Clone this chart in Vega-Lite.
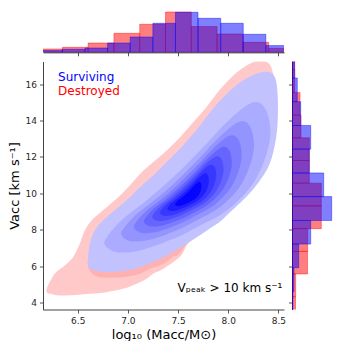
{
  "$schema": "https://vega.github.io/schema/vega-lite/v6.json",
  "padding": {"left": 8, "top": 10, "right": 0, "bottom": 0},
  "config": {
    "view": {"stroke": null},
    "font": "DejaVu Sans",
    "axis": {"grid": false, "labelFont": "DejaVu Sans", "titleFont": "DejaVu Sans", "domainColor": "#444444", "tickColor": "#444444", "labelColor": "#262626", "titleColor": "#000000", "titleFontWeight": "normal", "tickSize": 3.5, "labelFontSize": 9, "titleFontSize": 13, "domainWidth": 1, "tickWidth": 0.9, "labelFlush": false}
  },
  "datasets": {
    "top": [
      {"g": "Destroyed", "x0": 6.090, "x1": 6.347, "h": 3.3},
      {"g": "Destroyed", "x0": 6.347, "x1": 6.604, "h": 5},
      {"g": "Destroyed", "x0": 6.604, "x1": 6.861, "h": 9.3},
      {"g": "Destroyed", "x0": 6.861, "x1": 7.118, "h": 19},
      {"g": "Destroyed", "x0": 7.118, "x1": 7.375, "h": 28},
      {"g": "Destroyed", "x0": 7.375, "x1": 7.632, "h": 40.3},
      {"g": "Destroyed", "x0": 7.632, "x1": 7.889, "h": 25.7},
      {"g": "Destroyed", "x0": 7.889, "x1": 8.146, "h": 18.3},
      {"g": "Destroyed", "x0": 8.146, "x1": 8.403, "h": 10},
      {"g": "Destroyed", "x0": 8.403, "x1": 8.660, "h": 4},
      {"g": "Surviving", "x0": 6.122, "x1": 6.347, "h": 1.7},
      {"g": "Surviving", "x0": 6.347, "x1": 6.573, "h": 3},
      {"g": "Surviving", "x0": 6.573, "x1": 6.798, "h": 4.3},
      {"g": "Surviving", "x0": 6.798, "x1": 7.023, "h": 9.3},
      {"g": "Surviving", "x0": 7.023, "x1": 7.249, "h": 15.3},
      {"g": "Surviving", "x0": 7.249, "x1": 7.474, "h": 29},
      {"g": "Surviving", "x0": 7.474, "x1": 7.699, "h": 40},
      {"g": "Surviving", "x0": 7.699, "x1": 7.925, "h": 34},
      {"g": "Surviving", "x0": 7.925, "x1": 8.150, "h": 29},
      {"g": "Surviving", "x0": 8.150, "x1": 8.375, "h": 18},
      {"g": "Surviving", "x0": 8.375, "x1": 8.601, "h": 6.7}
    ],
    "right": [
      {"g": "Destroyed", "y0": 3.07, "y1": 4.32, "w": 3.5},
      {"g": "Destroyed", "y0": 4.32, "y1": 5.57, "w": 3.7},
      {"g": "Destroyed", "y0": 5.57, "y1": 6.81, "w": 15.5},
      {"g": "Destroyed", "y0": 6.81, "y1": 8.06, "w": 15.7},
      {"g": "Destroyed", "y0": 8.06, "y1": 9.31, "w": 29.3},
      {"g": "Destroyed", "y0": 9.31, "y1": 10.56, "w": 29.3},
      {"g": "Destroyed", "y0": 10.56, "y1": 11.81, "w": 17.3},
      {"g": "Destroyed", "y0": 11.81, "y1": 13.05, "w": 17.3},
      {"g": "Destroyed", "y0": 13.05, "y1": 14.30, "w": 9},
      {"g": "Destroyed", "y0": 14.30, "y1": 15.55, "w": 8},
      {"g": "Destroyed", "y0": 15.55, "y1": 16.80, "w": 2.7},
      {"g": "Destroyed", "y0": 16.80, "y1": 18.05, "w": 2.5},
      {"g": "Surviving", "y0": 3.30, "y1": 4.60, "w": 1},
      {"g": "Surviving", "y0": 4.60, "y1": 5.91, "w": 2},
      {"g": "Surviving", "y0": 5.91, "y1": 7.21, "w": 6.7},
      {"g": "Surviving", "y0": 7.21, "y1": 8.51, "w": 18.7},
      {"g": "Surviving", "y0": 8.51, "y1": 9.82, "w": 39.7},
      {"g": "Surviving", "y0": 9.82, "y1": 11.12, "w": 31.7},
      {"g": "Surviving", "y0": 11.12, "y1": 12.43, "w": 17.3},
      {"g": "Surviving", "y0": 12.43, "y1": 13.73, "w": 18.7},
      {"g": "Surviving", "y0": 13.73, "y1": 15.04, "w": 8.7},
      {"g": "Surviving", "y0": 15.04, "y1": 16.34, "w": 5.3},
      {"g": "Surviving", "y0": 16.34, "y1": 17.64, "w": 2.7}
    ],
    "contours": [
      {"level": "L01", "i": 0, "x": 6.187, "y": 4.66},
      {"level": "L01", "i": 1, "x": 6.27, "y": 5.58},
      {"level": "L01", "i": 2, "x": 6.37, "y": 6.04},
      {"level": "L01", "i": 3, "x": 6.453, "y": 6.49},
      {"level": "L01", "i": 4, "x": 6.52, "y": 7.23},
      {"level": "L01", "i": 5, "x": 6.57, "y": 7.96},
      {"level": "L01", "i": 6, "x": 6.653, "y": 8.6},
      {"level": "L01", "i": 7, "x": 6.77, "y": 9.15},
      {"level": "L01", "i": 8, "x": 6.887, "y": 9.7},
      {"level": "L01", "i": 9, "x": 7.003, "y": 10.34},
      {"level": "L01", "i": 10, "x": 7.12, "y": 11.07},
      {"level": "L01", "i": 11, "x": 7.253, "y": 11.72},
      {"level": "L01", "i": 12, "x": 7.387, "y": 12.36},
      {"level": "L01", "i": 13, "x": 7.52, "y": 13.09},
      {"level": "L01", "i": 14, "x": 7.653, "y": 13.92},
      {"level": "L01", "i": 15, "x": 7.77, "y": 14.65},
      {"level": "L01", "i": 16, "x": 7.87, "y": 15.38},
      {"level": "L01", "i": 17, "x": 7.97, "y": 16.02},
      {"level": "L01", "i": 18, "x": 8.07, "y": 16.57},
      {"level": "L01", "i": 19, "x": 8.17, "y": 16.99},
      {"level": "L01", "i": 20, "x": 8.27, "y": 17.25},
      {"level": "L01", "i": 21, "x": 8.37, "y": 17.25},
      {"level": "L01", "i": 22, "x": 8.42, "y": 17.03},
      {"level": "L01", "i": 23, "x": 8.447, "y": 16.57},
      {"level": "L01", "i": 24, "x": 8.47, "y": 15.56},
      {"level": "L01", "i": 25, "x": 8.46, "y": 13.0},
      {"level": "L01", "i": 26, "x": 8.40, "y": 11.68},
      {"level": "L01", "i": 27, "x": 8.25, "y": 10.3},
      {"level": "L01", "i": 28, "x": 7.98, "y": 8.8},
      {"level": "L01", "i": 29, "x": 7.72, "y": 7.75},
      {"level": "L01", "i": 30, "x": 7.60, "y": 7.25},
      {"level": "L01", "i": 31, "x": 7.52, "y": 6.53},
      {"level": "L01", "i": 32, "x": 7.353, "y": 5.85},
      {"level": "L01", "i": 33, "x": 7.253, "y": 5.58},
      {"level": "L01", "i": 34, "x": 7.187, "y": 5.3},
      {"level": "L01", "i": 35, "x": 7.087, "y": 5.03},
      {"level": "L01", "i": 36, "x": 6.953, "y": 4.75},
      {"level": "L01", "i": 37, "x": 6.787, "y": 4.57},
      {"level": "L01", "i": 38, "x": 6.62, "y": 4.48},
      {"level": "L01", "i": 39, "x": 6.387, "y": 4.39},
      {"level": "L01", "i": 40, "x": 6.253, "y": 4.44},
      {"level": "L02", "i": 0, "x": 6.603, "y": 6.31},
      {"level": "L02", "i": 1, "x": 6.62, "y": 5.76},
      {"level": "L02", "i": 2, "x": 6.72, "y": 5.39},
      {"level": "L02", "i": 3, "x": 6.953, "y": 5.39},
      {"level": "L02", "i": 4, "x": 7.12, "y": 5.58},
      {"level": "L02", "i": 5, "x": 7.22, "y": 5.85},
      {"level": "L02", "i": 6, "x": 7.353, "y": 6.13},
      {"level": "L02", "i": 7, "x": 7.453, "y": 6.53},
      {"level": "L02", "i": 8, "x": 7.55, "y": 6.95},
      {"level": "L02", "i": 9, "x": 7.953, "y": 10.25},
      {"level": "L02", "i": 10, "x": 7.62, "y": 11.53},
      {"level": "L02", "i": 11, "x": 7.12, "y": 9.33},
      {"level": "L02", "i": 12, "x": 6.687, "y": 6.77},
      {"level": "L03", "i": 0, "x": 6.603, "y": 6.4},
      {"level": "L03", "i": 1, "x": 6.62, "y": 7.23},
      {"level": "L03", "i": 2, "x": 6.67, "y": 7.96},
      {"level": "L03", "i": 3, "x": 6.77, "y": 8.6},
      {"level": "L03", "i": 4, "x": 6.887, "y": 9.15},
      {"level": "L03", "i": 5, "x": 7.02, "y": 9.79},
      {"level": "L03", "i": 6, "x": 7.12, "y": 10.34},
      {"level": "L03", "i": 7, "x": 7.253, "y": 10.98},
      {"level": "L03", "i": 8, "x": 7.387, "y": 11.72},
      {"level": "L03", "i": 9, "x": 7.52, "y": 12.45},
      {"level": "L03", "i": 10, "x": 7.62, "y": 13.09},
      {"level": "L03", "i": 11, "x": 7.72, "y": 13.73},
      {"level": "L03", "i": 12, "x": 7.82, "y": 14.46},
      {"level": "L03", "i": 13, "x": 7.953, "y": 15.29},
      {"level": "L03", "i": 14, "x": 8.087, "y": 15.97},
      {"level": "L03", "i": 15, "x": 8.22, "y": 16.44},
      {"level": "L03", "i": 16, "x": 8.337, "y": 16.66},
      {"level": "L03", "i": 17, "x": 8.427, "y": 16.63},
      {"level": "L03", "i": 18, "x": 8.473, "y": 16.26},
      {"level": "L03", "i": 19, "x": 8.493, "y": 15.38},
      {"level": "L03", "i": 20, "x": 8.493, "y": 13.92},
      {"level": "L03", "i": 21, "x": 8.47, "y": 12.82},
      {"level": "L03", "i": 22, "x": 8.42, "y": 11.72},
      {"level": "L03", "i": 23, "x": 8.347, "y": 10.95},
      {"level": "L03", "i": 24, "x": 8.247, "y": 10.21},
      {"level": "L03", "i": 25, "x": 8.12, "y": 9.48},
      {"level": "L03", "i": 26, "x": 8.02, "y": 8.97},
      {"level": "L03", "i": 27, "x": 7.92, "y": 8.45},
      {"level": "L03", "i": 28, "x": 7.787, "y": 7.96},
      {"level": "L03", "i": 29, "x": 7.62, "y": 7.35},
      {"level": "L03", "i": 30, "x": 7.453, "y": 6.77},
      {"level": "L03", "i": 31, "x": 7.287, "y": 6.31},
      {"level": "L03", "i": 32, "x": 7.12, "y": 5.94},
      {"level": "L03", "i": 33, "x": 6.987, "y": 5.76},
      {"level": "L03", "i": 34, "x": 6.787, "y": 5.67},
      {"level": "L03", "i": 35, "x": 6.637, "y": 5.82},
      {"level": "L03", "i": 36, "x": 6.603, "y": 6.13},
      {"level": "L04", "i": 0, "x": 6.770, "y": 7.172},
      {"level": "L04", "i": 1, "x": 6.803, "y": 7.685},
      {"level": "L04", "i": 2, "x": 6.953, "y": 8.601},
      {"level": "L04", "i": 3, "x": 7.186, "y": 9.609},
      {"level": "L04", "i": 4, "x": 7.453, "y": 10.892},
      {"level": "L04", "i": 5, "x": 7.720, "y": 12.358},
      {"level": "L04", "i": 6, "x": 7.986, "y": 13.915},
      {"level": "L04", "i": 7, "x": 8.236, "y": 14.978},
      {"level": "L04", "i": 8, "x": 8.370, "y": 14.648},
      {"level": "L04", "i": 9, "x": 8.420, "y": 13.274},
      {"level": "L04", "i": 10, "x": 8.353, "y": 11.716},
      {"level": "L04", "i": 11, "x": 8.220, "y": 10.342},
      {"level": "L04", "i": 12, "x": 7.986, "y": 9.059},
      {"level": "L04", "i": 13, "x": 7.720, "y": 8.234},
      {"level": "L04", "i": 14, "x": 7.453, "y": 7.501},
      {"level": "L04", "i": 15, "x": 7.120, "y": 6.860},
      {"level": "L04", "i": 16, "x": 6.886, "y": 6.768},
      {"level": "L05", "i": 0, "x": 6.937, "y": 7.696},
      {"level": "L05", "i": 1, "x": 6.963, "y": 8.106},
      {"level": "L05", "i": 2, "x": 7.083, "y": 8.839},
      {"level": "L05", "i": 3, "x": 7.269, "y": 9.646},
      {"level": "L05", "i": 4, "x": 7.483, "y": 10.672},
      {"level": "L05", "i": 5, "x": 7.697, "y": 11.845},
      {"level": "L05", "i": 6, "x": 7.909, "y": 13.090},
      {"level": "L05", "i": 7, "x": 8.109, "y": 13.941},
      {"level": "L05", "i": 8, "x": 8.217, "y": 13.677},
      {"level": "L05", "i": 9, "x": 8.257, "y": 12.578},
      {"level": "L05", "i": 10, "x": 8.203, "y": 11.331},
      {"level": "L05", "i": 11, "x": 8.097, "y": 10.232},
      {"level": "L05", "i": 12, "x": 7.909, "y": 9.206},
      {"level": "L05", "i": 13, "x": 7.697, "y": 8.546},
      {"level": "L05", "i": 14, "x": 7.483, "y": 7.959},
      {"level": "L05", "i": 15, "x": 7.217, "y": 7.446},
      {"level": "L05", "i": 16, "x": 7.029, "y": 7.373},
      {"level": "L06", "i": 0, "x": 7.062, "y": 8.089},
      {"level": "L06", "i": 1, "x": 7.083, "y": 8.422},
      {"level": "L06", "i": 2, "x": 7.180, "y": 9.018},
      {"level": "L06", "i": 3, "x": 7.332, "y": 9.673},
      {"level": "L06", "i": 4, "x": 7.505, "y": 10.507},
      {"level": "L06", "i": 5, "x": 7.679, "y": 11.460},
      {"level": "L06", "i": 6, "x": 7.852, "y": 12.472},
      {"level": "L06", "i": 7, "x": 8.014, "y": 13.163},
      {"level": "L06", "i": 8, "x": 8.102, "y": 12.948},
      {"level": "L06", "i": 9, "x": 8.134, "y": 12.055},
      {"level": "L06", "i": 10, "x": 8.091, "y": 11.043},
      {"level": "L06", "i": 11, "x": 8.004, "y": 10.150},
      {"level": "L06", "i": 12, "x": 7.852, "y": 9.316},
      {"level": "L06", "i": 13, "x": 7.679, "y": 8.779},
      {"level": "L06", "i": 14, "x": 7.505, "y": 8.303},
      {"level": "L06", "i": 15, "x": 7.289, "y": 7.886},
      {"level": "L06", "i": 16, "x": 7.137, "y": 7.826},
      {"level": "L07", "i": 0, "x": 7.162, "y": 8.403},
      {"level": "L07", "i": 1, "x": 7.179, "y": 8.675},
      {"level": "L07", "i": 2, "x": 7.258, "y": 9.161},
      {"level": "L07", "i": 3, "x": 7.382, "y": 9.695},
      {"level": "L07", "i": 4, "x": 7.523, "y": 10.375},
      {"level": "L07", "i": 5, "x": 7.665, "y": 11.152},
      {"level": "L07", "i": 6, "x": 7.806, "y": 11.977},
      {"level": "L07", "i": 7, "x": 7.938, "y": 12.541},
      {"level": "L07", "i": 8, "x": 8.010, "y": 12.366},
      {"level": "L07", "i": 9, "x": 8.036, "y": 11.637},
      {"level": "L07", "i": 10, "x": 8.001, "y": 10.812},
      {"level": "L07", "i": 11, "x": 7.930, "y": 10.084},
      {"level": "L07", "i": 12, "x": 7.806, "y": 9.404},
      {"level": "L07", "i": 13, "x": 7.665, "y": 8.966},
      {"level": "L07", "i": 14, "x": 7.523, "y": 8.578},
      {"level": "L07", "i": 15, "x": 7.347, "y": 8.238},
      {"level": "L07", "i": 16, "x": 7.223, "y": 8.189},
      {"level": "L08", "i": 0, "x": 7.245, "y": 8.665},
      {"level": "L08", "i": 1, "x": 7.259, "y": 8.886},
      {"level": "L08", "i": 2, "x": 7.323, "y": 9.280},
      {"level": "L08", "i": 3, "x": 7.424, "y": 9.713},
      {"level": "L08", "i": 4, "x": 7.538, "y": 10.265},
      {"level": "L08", "i": 5, "x": 7.653, "y": 10.895},
      {"level": "L08", "i": 6, "x": 7.768, "y": 11.565},
      {"level": "L08", "i": 7, "x": 7.875, "y": 12.022},
      {"level": "L08", "i": 8, "x": 7.933, "y": 11.880},
      {"level": "L08", "i": 9, "x": 7.954, "y": 11.289},
      {"level": "L08", "i": 10, "x": 7.926, "y": 10.619},
      {"level": "L08", "i": 11, "x": 7.868, "y": 10.029},
      {"level": "L08", "i": 12, "x": 7.768, "y": 9.477},
      {"level": "L08", "i": 13, "x": 7.653, "y": 9.122},
      {"level": "L08", "i": 14, "x": 7.538, "y": 8.807},
      {"level": "L08", "i": 15, "x": 7.395, "y": 8.531},
      {"level": "L08", "i": 16, "x": 7.295, "y": 8.492},
      {"level": "L09", "i": 0, "x": 7.320, "y": 8.901},
      {"level": "L09", "i": 1, "x": 7.331, "y": 9.076},
      {"level": "L09", "i": 2, "x": 7.382, "y": 9.387},
      {"level": "L09", "i": 3, "x": 7.461, "y": 9.730},
      {"level": "L09", "i": 4, "x": 7.552, "y": 10.166},
      {"level": "L09", "i": 5, "x": 7.643, "y": 10.664},
      {"level": "L09", "i": 6, "x": 7.733, "y": 11.194},
      {"level": "L09", "i": 7, "x": 7.818, "y": 11.555},
      {"level": "L09", "i": 8, "x": 7.864, "y": 11.443},
      {"level": "L09", "i": 9, "x": 7.881, "y": 10.976},
      {"level": "L09", "i": 10, "x": 7.858, "y": 10.446},
      {"level": "L09", "i": 11, "x": 7.813, "y": 9.979},
      {"level": "L09", "i": 12, "x": 7.733, "y": 9.543},
      {"level": "L09", "i": 13, "x": 7.643, "y": 9.262},
      {"level": "L09", "i": 14, "x": 7.552, "y": 9.013},
      {"level": "L09", "i": 15, "x": 7.439, "y": 8.795},
      {"level": "L09", "i": 16, "x": 7.359, "y": 8.764},
      {"level": "L10", "i": 0, "x": 7.395, "y": 9.137},
      {"level": "L10", "i": 1, "x": 7.403, "y": 9.265},
      {"level": "L10", "i": 2, "x": 7.440, "y": 9.494},
      {"level": "L10", "i": 3, "x": 7.499, "y": 9.746},
      {"level": "L10", "i": 4, "x": 7.565, "y": 10.067},
      {"level": "L10", "i": 5, "x": 7.632, "y": 10.434},
      {"level": "L10", "i": 6, "x": 7.699, "y": 10.823},
      {"level": "L10", "i": 7, "x": 7.761, "y": 11.089},
      {"level": "L10", "i": 8, "x": 7.795, "y": 11.006},
      {"level": "L10", "i": 9, "x": 7.807, "y": 10.663},
      {"level": "L10", "i": 10, "x": 7.791, "y": 10.273},
      {"level": "L10", "i": 11, "x": 7.757, "y": 9.930},
      {"level": "L10", "i": 12, "x": 7.699, "y": 9.609},
      {"level": "L10", "i": 13, "x": 7.632, "y": 9.402},
      {"level": "L10", "i": 14, "x": 7.565, "y": 9.219},
      {"level": "L10", "i": 15, "x": 7.482, "y": 9.059},
      {"level": "L10", "i": 16, "x": 7.424, "y": 9.036},
      {"level": "L11", "i": 0, "x": 7.470, "y": 9.373},
      {"level": "L11", "i": 1, "x": 7.475, "y": 9.455},
      {"level": "L11", "i": 2, "x": 7.499, "y": 9.601},
      {"level": "L11", "i": 3, "x": 7.536, "y": 9.763},
      {"level": "L11", "i": 4, "x": 7.579, "y": 9.968},
      {"level": "L11", "i": 5, "x": 7.622, "y": 10.203},
      {"level": "L11", "i": 6, "x": 7.664, "y": 10.452},
      {"level": "L11", "i": 7, "x": 7.704, "y": 10.622},
      {"level": "L11", "i": 8, "x": 7.726, "y": 10.569},
      {"level": "L11", "i": 9, "x": 7.734, "y": 10.349},
      {"level": "L11", "i": 10, "x": 7.723, "y": 10.100},
      {"level": "L11", "i": 11, "x": 7.702, "y": 9.880},
      {"level": "L11", "i": 12, "x": 7.664, "y": 9.675},
      {"level": "L11", "i": 13, "x": 7.622, "y": 9.543},
      {"level": "L11", "i": 14, "x": 7.579, "y": 9.425},
      {"level": "L11", "i": 15, "x": 7.526, "y": 9.323},
      {"level": "L11", "i": 16, "x": 7.488, "y": 9.308}
    ]
  },
  "bounds": "flush",
  "spacing": 8.5,
  "vconcat": [
    {
      "width": 241,
      "height": 42.3,
      "data": {"name": "top"},
      "mark": {"type": "rect", "clip": true, "fillOpacity": 0.5, "strokeOpacity": 0.5, "strokeWidth": 0.8},
      "encoding": {
        "x": {"field": "x0", "type": "quantitative", "scale": {"domain": [6.154, 8.556], "nice": false, "zero": false}, "axis": {"values": [6.5, 7, 7.5, 8, 8.5], "labels": false, "title": null, "domainColor": "#222222"}},
        "x2": {"field": "x1"},
        "y": {"field": "h", "type": "quantitative", "scale": {"domain": [0, 42.3], "nice": false}, "axis": null},
        "y2": {"datum": 0},
        "fill": {"field": "g", "type": "nominal", "scale": {"domain": ["Destroyed", "Surviving"], "range": ["#ff0000", "#0000ff"]}, "legend": null},
        "stroke": {"field": "g", "type": "nominal", "scale": {"domain": ["Destroyed", "Surviving"], "range": ["#ff0000", "#0000ff"]}, "legend": null}
      }
    },
    {
      "bounds": "flush",
      "spacing": 8,
      "hconcat": [
        {
          "width": 241,
          "height": 248,
          "layer": [
            {
              "data": {"name": "contours"},
              "mark": {"type": "line", "filled": true, "interpolate": "cardinal-closed", "clip": true, "strokeWidth": 0},
              "encoding": {
                "x": {"field": "x", "type": "quantitative", "scale": {"domain": [6.154, 8.556], "nice": false, "zero": false}, "axis": {"values": [6.5, 7, 7.5, 8, 8.5], "format": ".1f", "title": "log₁₀ (Macc/M⊙)", "labelPadding": 3, "titlePadding": 3}},
                "y": {"field": "y", "type": "quantitative", "scale": {"domain": [3.615, 17.248], "nice": false, "zero": false}, "axis": {"values": [4, 6, 8, 10, 12, 14, 16], "format": "d", "title": "Vacc [km s⁻¹]", "labelPadding": 3, "titlePadding": 4}},
                "color": {"field": "level", "type": "nominal", "scale": {"domain": ["L01", "L02", "L03", "L04", "L05", "L06", "L07", "L08", "L09", "L10", "L11"], "range": ["#ffc9c9", "#ffb1b1", "#c2c2ff", "#ababff", "#9494ff", "#7d7dff", "#6666ff", "#4f4fff", "#3838ff", "#2020ff", "#0606ff"]}, "legend": null},
                "order": {"field": "i", "type": "quantitative"}
              }
            },
            {
              "data": {"values": [{}]},
              "mark": {"type": "text", "align": "left", "baseline": "middle", "fontSize": 12, "font": "DejaVu Sans", "color": "#0000ff"},
              "encoding": {"x": {"datum": 6.304, "type": "quantitative"}, "y": {"datum": 16.39, "type": "quantitative"}, "text": {"value": "Surviving"}}
            },
            {
              "data": {"values": [{}]},
              "mark": {"type": "text", "align": "left", "baseline": "middle", "fontSize": 12, "font": "DejaVu Sans", "color": "#ff0000"},
              "encoding": {"x": {"datum": 6.304, "type": "quantitative"}, "y": {"datum": 15.62, "type": "quantitative"}, "text": {"value": "Destroyed"}}
            },
            {
              "data": {"values": [{}]},
              "mark": {"type": "text", "align": "right", "baseline": "alphabetic", "fontSize": 12, "font": "DejaVu Sans", "color": "#000000"},
              "encoding": {"x": {"datum": 8.54, "type": "quantitative"}, "y": {"datum": 4.57, "type": "quantitative"}, "text": {"value": "Vₚₑₐₖ > 10 km s⁻¹"}}
            }
          ]
        },
        {
          "width": 41.7,
          "height": 248,
          "data": {"name": "right"},
          "mark": {"type": "rect", "clip": true, "fillOpacity": 0.5, "strokeOpacity": 0.5, "strokeWidth": 0.8},
          "encoding": {
            "y": {"field": "y0", "type": "quantitative", "scale": {"domain": [3.615, 17.248], "nice": false, "zero": false}, "axis": {"values": [4, 6, 8, 10, 12, 14, 16], "labels": false, "title": null, "domainColor": "#222222"}},
            "y2": {"field": "y1"},
            "x": {"field": "w", "type": "quantitative", "scale": {"domain": [0, 41.7], "nice": false}, "axis": null},
            "x2": {"datum": 0},
            "fill": {"field": "g", "type": "nominal", "scale": {"domain": ["Destroyed", "Surviving"], "range": ["#ff0000", "#0000ff"]}, "legend": null},
            "stroke": {"field": "g", "type": "nominal", "scale": {"domain": ["Destroyed", "Surviving"], "range": ["#ff0000", "#0000ff"]}, "legend": null}
          }
        }
      ]
    }
  ]
}
